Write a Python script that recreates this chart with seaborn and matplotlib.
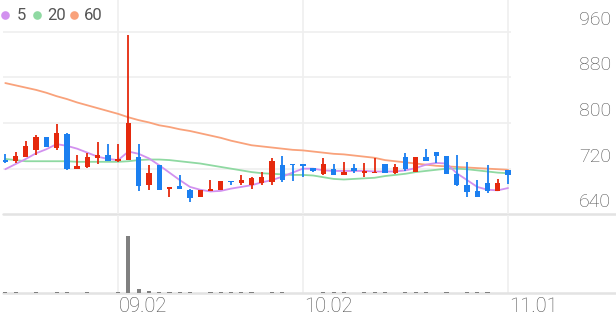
import matplotlib
matplotlib.use("Agg")
import matplotlib.pyplot as plt
import seaborn as sns
import numpy as np
from matplotlib.lines import Line2D

# ---------------- data ----------------
opens  = [735,733,741,752,776,757,780,719,723,739,744,733,735,741,691,726,684,690,683,671,
          681,683,699,695,691,695,697,726,729,728,721,710,719,709,721,712,713,729,712,741,
          714,741,750,743,710,691,681,695,681,718]
closes = [732,743,760,776,758,783,719,725,741,744,734,737,800,690,712,683,688,685,669,683,
          684,699,696,700,704,706,733,700,726,725,716,728,709,715,716,716,715,712,723,719,
          741,734,742,710,691,679,671,680,694,709]
highs  = [745,750,768,779,776,799,783,744,748,766,763,763,955,764,726,726,688,708,684,683,
          700,699,699,708,706,715,738,743,729,728,722,738,729,732,729,730,738,729,729,748,
          741,754,750,743,744,731,700,726,701,718]
lows   = [730,730,740,744,758,753,718,719,722,729,734,731,735,680,683,683,670,685,662,671,
          681,683,692,691,684,691,691,697,699,706,715,709,709,709,713,706,713,712,711,716,
          714,734,730,710,690,671,671,678,681,693]
ma5  = [719,728,737,747,754,763,760,755,748,741,737,735,750,746,738,726,713,700,688,683,
        680,681,685,688,691,696,700,706,713,720,720,717,716,716,716,716,715,715,715,717,
        721,727,730,729,712,700,688,683,682,686]
ma20 = [737,735,733,733,733,733,733,732,732,732,732,732,733,735,736,736,735,733,731,729,
        726,723,720,717,714,712,711,710,709,709,708,705,702,701,702,703,704,707,709,711,
        714,716,718,720,720,719,717,715,713,712]
ma60 = [870,866,862,858,853,847,842,836,831,826,821,816,810,805,801,796,793,789,786,782,
        778,774,769,765,761,759,757,755,753,752,750,748,746,745,743,741,739,735,733,731,
        729,727,725,724,723,722,721,720,719,718]
volume = [0.4,0.5,0.2,0.5,0.2,0.4,0.5,0.2,0.4,0.2,0.2,0.5,100,6.5,2.5,0.6,0.5,0.5,0.5,0.3,
          0.5,0.5,0.5,0.4,0.5,0.2,0.4,0.5,0.2,0.2,0.2,0.4,0.5,0.5,0.2,0.4,0.5,0.4,0.2,0.5,
          0.4,0.5,0.2,0.4,0.2,0.5,0.4,0.4,0.2,0.2]
price_ticks = [640, 720, 800, 880, 960]
date_idx = [11, 29, 49]
date_labels = ["09.02", "10.02", "11.01"]
legend_labels = ["5", "20", "60"]

# ---------------- style ----------------
sns.set_theme(style="white")
plt.rcParams["font.family"] = ["Roboto", "DejaVu Sans"]

RED = "#e5290d"
BLUE = "#1b7ff0"
C5, C20, C60 = "#d291ef", "#8fd9a2", "#f9a27b"
GRID = "#efefef"
TXT = "#4f4f4f"

W, H = 616, 321
fig = plt.figure(figsize=(W / 100, H / 100), dpi=100)

x0_px, step_px = 5.3, 10.26
ax_left, ax_right = 3, 616
xlim = ((ax_left - x0_px) / step_px, (ax_right - x0_px) / step_px)
grid_right = (511 - x0_px) / step_px

# price axes
p_bottom_px = 214.3
ax = fig.add_axes([ax_left / W, (H - p_bottom_px) / H, (ax_right - ax_left) / W, p_bottom_px / H])
ppu = (214.3 - 31.7) / 320.0
ax.set_xlim(*xlim)
ax.set_ylim(640, 640 + p_bottom_px / ppu)
ax.axis("off")

# volume axes
v_bottom_px, v_top_px = 292.7, 215
vax = fig.add_axes([ax_left / W, (H - v_bottom_px) / H, (ax_right - ax_left) / W, (v_bottom_px - v_top_px) / H])
vax.set_xlim(*xlim)
vax.set_ylim(0, 100 * (v_bottom_px - v_top_px) / (v_bottom_px - 235.7))
vax.axis("off")

idx = np.arange(len(opens))

# grids
for t in price_ticks[1:]:
    ax.hlines(t, xlim[0], grid_right, color=GRID, lw=1.2, zorder=0)
ax.axhline(640, color="#e3e3e3", lw=1.8, zorder=0, clip_on=False)
for d in date_idx:
    ax.axvline(d, color=GRID, lw=1.2, zorder=0)
    vax.axvline(d, color=GRID, lw=1.2, zorder=0)
vax.axhline(0, color="#e3e3e3", lw=1.8, zorder=0, clip_on=False)

# moving averages
sns.lineplot(x=idx, y=ma60, ax=ax, color=C60, lw=1.3, zorder=2)
sns.lineplot(x=idx, y=ma20, ax=ax, color=C20, lw=1.3, zorder=2)
sns.lineplot(x=idx, y=ma5, ax=ax, color=C5, lw=1.3, zorder=2)

# candles
o = np.array(opens, float); c = np.array(closes, float)
colors = [RED if cc >= oo else BLUE for oo, cc in zip(o, c)]
ax.vlines(idx, lows, highs, colors=colors, lw=1.3, zorder=3)
body_bottom = np.minimum(o, c)
body_h = np.maximum(np.abs(c - o), 2.0)
ax.bar(idx, body_h, bottom=body_bottom, width=0.52, color=colors, lw=0, zorder=4)

# volume
vax.bar(idx, volume, width=0.4, color="#808080", lw=0, zorder=3)

# price labels
for t in price_ticks:
    ax.text(611 / W, (H - (214.3 - (t - 640) * ppu) + 3) / H, str(t), transform=fig.transFigure,
            ha="right", va="bottom", fontsize=14, color=TXT, fontweight="light")

# date labels
for d, lab in zip(date_idx, date_labels):
    xp = x0_px + d * step_px + 1
    fig.text(xp / W, (H - 307) / H, lab, ha="left", va="center", fontsize=14.5,
             color=TXT, fontweight="light")

# legend
leg_items = [(5, 17, C5), (37, 47, C20), (74, 84, C60)]
for (dx, tx, col), lab in zip(leg_items, legend_labels):
    fig.add_artist(Line2D([dx / W], [(H - 15) / H], marker="o", markersize=6.2, color=col,
                          markeredgewidth=0, transform=fig.transFigure))
    fig.text(tx / W, (H - 15.5) / H, lab, ha="left", va="center", fontsize=12, color="#555555")

fig.savefig("out.png", dpi=100)
